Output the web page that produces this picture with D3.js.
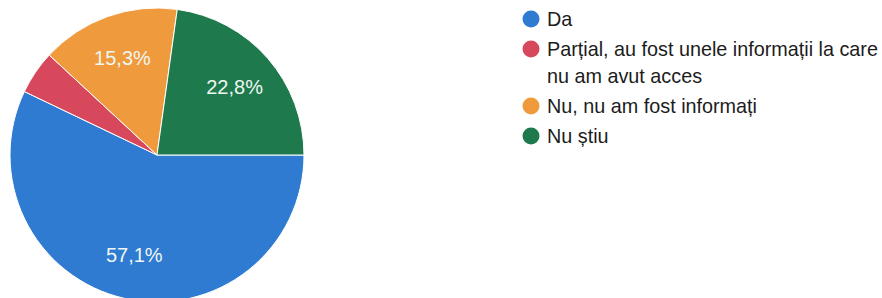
<!DOCTYPE html>
<html>
<head>
<meta charset="utf-8">
<script src="https://cdn.jsdelivr.net/npm/d3@7"></script>
<style>
    body { margin: 0; background: #fff; }
    svg { display: block; font-family: "Liberation Sans", Arial, sans-serif; }
    .slice-label { fill: #eef6f2; font-size: 20px; }
    .legend-text { fill: #1c1c1c; font-size: 19.8px; }
</style>
</head>
<body>
<div id="chart"></div>
<script>
const categories = [
    "Da",
    "Parțial, au fost unele informații la care|nu am avut acces",
    "Nu, nu am fost informați",
    "Nu știu"
];
const percentages = [57.1, 4.8, 15.3, 22.8];
const percentLabels = ["57,1%", "", "15,3%", "22,8%"];
const sliceColours = ["#2f7bd2", "#d8485c", "#f09a3e", "#1e7a4c"];

const width = 882;
const height = 298;
const radius = 147;
const centre = [157, 155];

const svg = d3.select("#chart")
    .append("svg")
    .attr("width", width)
    .attr("height", height);

const slices = categories.map(function(name, i) {
    return { name: name, value: percentages[i], label: percentLabels[i], colour: sliceColours[i] };
});

const pie = d3.pie()
    .sort(null)
    .value(function(d) { return d.value; })
    .startAngle(Math.PI / 2)
    .endAngle(Math.PI / 2 + Math.PI * 2);

const arc = d3.arc().innerRadius(0).outerRadius(radius);
const labelArc = d3.arc().innerRadius(radius * 1.4).outerRadius(0);

const plot = svg.append("g")
    .attr("transform", "translate(" + centre[0] + "," + centre[1] + ")");

const arcs = pie(slices);

plot.selectAll(".slice")
    .data(arcs)
    .enter()
    .append("path")
    .attr("class", "slice")
    .attr("d", arc)
    .attr("fill", function(d) { return d.data.colour; })
    .attr("stroke", "#fff")
    .attr("stroke-width", 1);

plot.selectAll(".slice-label")
    .data(arcs.filter(function(d) { return d.data.label; }))
    .enter()
    .append("text")
    .attr("class", "slice-label")
    .attr("x", function(d) { return labelArc.centroid(d)[0]; })
    .attr("y", function(d) { return labelArc.centroid(d)[1]; })
    .attr("text-anchor", "middle")
    .attr("dominant-baseline", "central")
    .text(function(d) { return d.data.label; });

// legend
const legendX = 531;
const legendTop = 19;
const rowGap = 30;
const lineGap = 27;

const legend = svg.append("g");
let y = legendTop;

slices.forEach(function(d) {
    const lines = d.name.split("|");
    legend.append("circle")
        .attr("cx", legendX)
        .attr("cy", y)
        .attr("r", 8.5)
        .attr("fill", d.colour);

    const text = legend.append("text")
        .attr("class", "legend-text")
        .attr("x", legendX + 16)
        .attr("y", y)
        .attr("dominant-baseline", "central");

    lines.forEach(function(line, i) {
        text.append("tspan")
            .attr("x", legendX + 16)
            .attr("dy", i === 0 ? 0 : lineGap)
            .text(line);
    });

    y += rowGap + (lines.length - 1) * lineGap;
});
</script>
</body>
</html>
